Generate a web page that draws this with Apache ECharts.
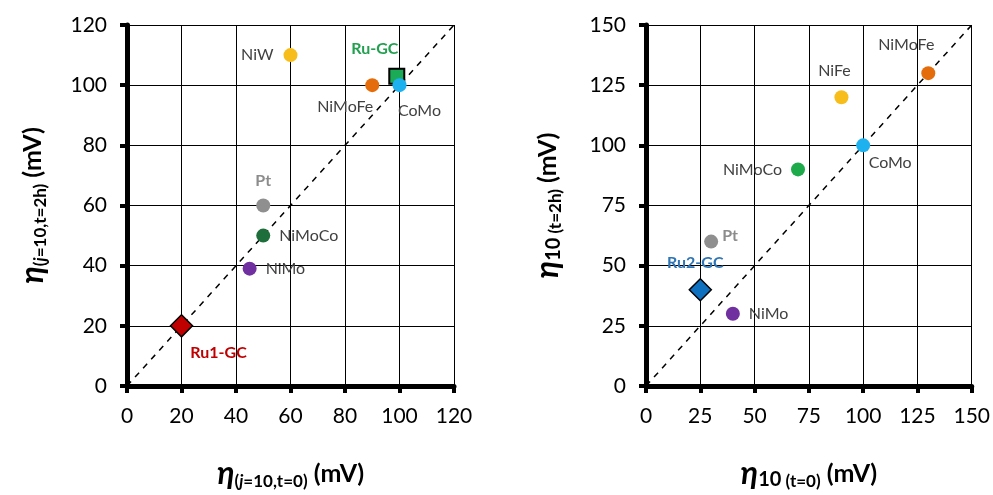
<!DOCTYPE html>
<html>
<head>
<meta charset="utf-8">
<script src="https://cdn.jsdelivr.net/npm/echarts@6/dist/echarts.min.js"></script>
<style>
  html, body { margin: 0; padding: 0; background: #fff; }
  #main { width: 993px; height: 495px; }
</style>
</head>
<body>
<div id="main"></div>
<script>
// 数据 - left chart (j=10)
var leftNames = ['NiW', 'NiMoFe', 'CoMo', 'Pt', 'NiMoCo', 'NiMo'];
var leftX = [60, 90, 100, 50, 50, 45];
var leftY = [110, 100, 100, 60, 50, 39];
var leftRuName = ['Ru-GC', 'Ru1-GC'];
var leftRuX = [99, 20];
var leftRuY = [103, 20];
var leftTicks = [0, 20, 40, 60, 80, 100, 120];

// 数据 - right chart (eta10)
var rightNames = ['NiMoFe', 'NiFe', 'CoMo', 'NiMoCo', 'Pt', 'NiMo'];
var rightX = [130, 90, 100, 70, 30, 40];
var rightY = [130, 120, 100, 90, 60, 30];
var rightRuName = ['Ru2-GC'];
var rightRuX = [25];
var rightRuY = [40];
var rightTicks = [0, 25, 50, 75, 100, 125, 150];

var FONT = 'Lato, "Open Sans", sans-serif';
var TXT = '#404040';

// marker colours / label placement (style only)
var style = {
  'NiW':    { color: '#F7BE1B' },
  'NiMoFe': { color: '#E46C0A' },
  'CoMo':   { color: '#1DB1EF' },
  'Pt':     { color: '#8F8F8F' },
  'NiMoCo': { color: '#1E6E3B' },
  'NiMo':   { color: '#7030A0' },
  'NiFe':   { color: '#F7BE1B' }
};
var rightColor = { 'NiMoCo': '#1DAA4B' };
var leftLabel = {
  'NiW':    { position: 'left', distance: 10 },
  'NiMoFe': { position: 'bottom', offset: [-27, 2] },
  'CoMo':   { position: 'bottom', offset: [20, 6] },
  'Pt':     { position: 'top', distance: 10, bold: true, color: '#8C8C8C' },
  'NiMoCo': { position: 'right', distance: 9 },
  'NiMo':   { position: 'right', distance: 9 }
};
var rightLabel = {
  'NiMoFe': { position: 'top', offset: [-22, -8] },
  'NiFe':   { position: 'top', offset: [-7, -6] },
  'CoMo':   { position: 'bottom', offset: [27, -2] },
  'NiMoCo': { position: 'left', distance: 9 },
  'Pt':     { position: 'right', offset: [0, -6], distance: 4, bold: true, color: '#8C8C8C' },
  'NiMo':   { position: 'right', distance: 9 }
};

function buildPoints(names, xs, ys, lab, colOverride) {
  return names.map(function(n, i) {
    var l = lab[n];
    var c = (colOverride && colOverride[n]) || style[n].color;
    return {
      name: n,
      value: [xs[i], ys[i]],
      itemStyle: { color: c, opacity: 1 },
      label: {
        show: true,
        formatter: n,
        position: l.position,
        distance: l.distance || 5,
        offset: l.offset || [0, 0],
        color: l.color || TXT,
        fontWeight: l.bold ? 'bold' : 'normal',
        fontSize: 16,
        fontFamily: FONT
      }
    };
  });
}

function axisCommon(max, interval) {
  return {
    min: 0,
    max: max,
    interval: interval,
    axisLine: { show: true, onZero: false, lineStyle: { color: '#000', width: 5 } },
    axisTick: { show: true, inside: false, length: 7, lineStyle: { color: '#000', width: 4 } },
    axisLabel: { color: '#000', fontSize: 21, fontFamily: FONT, margin: 20 },
    splitLine: { show: true, lineStyle: { color: '#000', width: 1 } }
  };
}

var richTitle = {
  eta: { fontSize: 32, fontStyle: 'italic', fontWeight: 'bold', fontFamily: FONT, color: '#000' },
  sub: { fontSize: 17, fontWeight: 'bold', fontFamily: FONT, color: '#000', verticalAlign: 'bottom', padding: [14, 0, 0, 0] },
  subi: { fontSize: 17, fontWeight: 'bold', fontStyle: 'italic', fontFamily: FONT, color: '#000', verticalAlign: 'bottom', padding: [14, 0, 0, 0] },
  sub10: { fontSize: 20, fontWeight: 'bold', fontFamily: FONT, color: '#000', verticalAlign: 'bottom', padding: [12, 0, 0, 0] },
  mv: { fontSize: 25, fontWeight: 'bold', fontFamily: FONT, color: '#000' }
};

var xL = axisCommon(120, 20), yL = axisCommon(120, 20);
var xR = axisCommon(150, 25), yR = axisCommon(150, 25);
xL.gridIndex = 0; yL.gridIndex = 0; xR.gridIndex = 1; yR.gridIndex = 1;
xL.name = '{eta|η}{sub|(}{subi|j}{sub|=10,t=0)}{mv| (mV)}';
yL.name = '{eta|η}{sub|(}{subi|j}{sub|=10,t=2h)}{mv| (mV)}';
xR.name = '{eta|η}{sub10|10}{sub| (t=0)}{mv| (mV)}';
yR.name = '{eta|η}{sub10|10}{sub| (t=2h)}{mv| (mV)}';
[xL, yL, xR, yR].forEach(function(a) {
  a.nameLocation = 'middle';
  a.nameTextStyle = { rich: richTitle };
});
xL.nameGap = 72; xR.nameGap = 72;
yL.nameGap = 78; yR.nameGap = 82;

var chart = echarts.init(document.getElementById('main'));
chart.setOption({
  animation: false,
  backgroundColor: '#fff',
  grid: [
    { left: 127, top: 25, width: 327, height: 362 },
    { left: 646, top: 25, width: 327, height: 369 }
  ],
  xAxis: [xL, xR],
  yAxis: [yL, yR],
  series: [
    { // 对角线
      type: 'line', xAxisIndex: 0, yAxisIndex: 0, symbol: 'none', silent: true, z: 1,
      data: [[0, 0], [120, 120]],
      lineStyle: { color: '#000', width: 1.5, type: [6, 6] }
    },
    {
      type: 'line', xAxisIndex: 1, yAxisIndex: 1, symbol: 'none', silent: true, z: 1,
      data: [[0, 0], [150, 150]],
      lineStyle: { color: '#000', width: 1.5, type: [6, 6] }
    },
    {
      type: 'scatter', xAxisIndex: 0, yAxisIndex: 0, symbolSize: 14, z: 4,
      data: buildPoints(leftNames, leftX, leftY, leftLabel)
    },
    {
      type: 'scatter', xAxisIndex: 1, yAxisIndex: 1, symbolSize: 14, z: 4,
      data: buildPoints(rightNames, rightX, rightY, rightLabel, rightColor)
    },
    { // Ru-GC (square) & Ru1-GC (diamond)
      type: 'scatter', xAxisIndex: 0, yAxisIndex: 0, z: 3,
      data: [{
        name: leftRuName[0], value: [leftRuX[0], leftRuY[0]],
        symbol: 'rect', symbolSize: 15,
        itemStyle: { color: '#1BAA55', borderColor: '#000', borderWidth: 2, opacity: 1 },
        label: { show: true, formatter: leftRuName[0], position: 'top', offset: [-22, -6],
          color: '#22A050', fontWeight: 'bold', fontSize: 16, fontFamily: FONT }
      }, {
        name: leftRuName[1], value: [leftRuX[1], leftRuY[1]],
        symbol: 'diamond', symbolSize: [22, 22],
        itemStyle: { color: '#C00000', borderColor: '#000', borderWidth: 1.5, opacity: 1 },
        label: { show: true, formatter: leftRuName[1], position: 'bottom', offset: [37, 2],
          color: '#C00000', fontWeight: 'bold', fontSize: 16, fontFamily: FONT }
      }]
    },
    { // Ru2-GC (diamond)
      type: 'scatter', xAxisIndex: 1, yAxisIndex: 1, z: 3,
      data: [{
        name: rightRuName[0], value: [rightRuX[0], rightRuY[0]],
        symbol: 'diamond', symbolSize: [22, 22],
        itemStyle: { color: '#1070C0', borderColor: '#000', borderWidth: 1.5, opacity: 1 },
        label: { show: true, formatter: rightRuName[0], position: 'top', offset: [-5, -2],
          color: '#2E75B6', fontWeight: 'bold', fontSize: 16, fontFamily: FONT }
      }]
    }
  ]
});
</script>
</body>
</html>
